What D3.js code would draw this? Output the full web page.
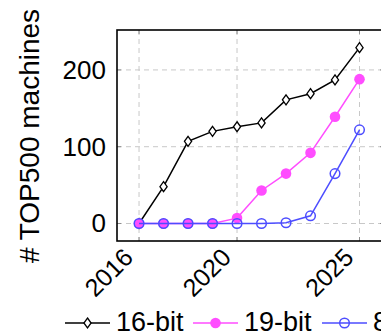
<!DOCTYPE html>
<html>
<head>
<meta charset="utf-8">
<script src="https://cdn.jsdelivr.net/npm/d3@7"></script>
<style>
  html, body { margin: 0; padding: 0; background: #fff; overflow: hidden; }
  text { font-family: "Liberation Sans", Arial, sans-serif; fill: #000; }
</style>
</head>
<body>
<svg id="chart" width="381" height="333"></svg>
<script>
// data
const years = [2016, 2017, 2018, 2019, 2020, 2021, 2022, 2023, 2024, 2025];
const bit16 = [0, 48, 107, 120, 126, 131, 161, 169, 187, 229];
const bit19 = [0, 0, 0, 0, 7, 43, 65, 92, 139, 188];
const bit8 = [0, 0, 0, 0, 0, 0, 1, 10, 65, 122];
const xTicks = [2016, 2020, 2025];
const yTicks = [0, 100, 200];
const seriesNames = ['16-bit', '19-bit', '8-bit'];

const svg = d3.select('#chart');
const pLeft = 117, pRight = 384, pTop = 30, pBottom = 241;

const x = d3.scaleLinear().domain([2015.1, 2026]).range([pLeft, pRight]);
const y = d3.scaleLinear().domain([-22.8, 252]).range([pBottom, pTop]);

// grid
const grid = svg.append('g')
	.attr('stroke', '#c8c8c8')
	.attr('stroke-width', 1)
	.attr('stroke-dasharray', '5,4');
grid.selectAll('line.gx')
	.data(xTicks)
	.enter()
	.append('line')
	.attr('x1', d => x(d)).attr('x2', d => x(d))
	.attr('y1', pTop).attr('y2', pBottom);
grid.selectAll('line.gy')
	.data(yTicks)
	.enter()
	.append('line')
	.attr('x1', pLeft).attr('x2', pRight)
	.attr('y1', d => y(d)).attr('y2', d => y(d));

// inner ticks on all four sides
const ticks = svg.append('g').attr('stroke', '#8c8c8c').attr('stroke-width', 1);
xTicks.forEach(function(t) {
	ticks.append('line').attr('x1', x(t)).attr('x2', x(t)).attr('y1', pBottom).attr('y2', pBottom - 4);
	ticks.append('line').attr('x1', x(t)).attr('x2', x(t)).attr('y1', pTop).attr('y2', pTop + 4);
});
yTicks.forEach(function(t) {
	ticks.append('line').attr('x1', pLeft).attr('x2', pLeft + 4).attr('y1', y(t)).attr('y2', y(t));
	ticks.append('line').attr('x1', pRight - 4).attr('x2', pRight).attr('y1', y(t)).attr('y2', y(t));
});

// tick labels
svg.selectAll('text.ylab')
	.data(yTicks)
	.enter()
	.append('text')
	.attr('x', pLeft - 11)
	.attr('y', d => y(d) + 9)
	.attr('text-anchor', 'end')
	.attr('font-size', 26)
	.text(d => d);

svg.selectAll('text.xlab')
	.data(xTicks)
	.enter()
	.append('text')
	.attr('transform', d => `translate(${x(d) - 4.5},259) rotate(-45)`)
	.attr('text-anchor', 'end')
	.attr('font-size', 25)
	.text(d => d);

// y axis title
svg.append('text')
	.attr('transform', 'translate(39,136) rotate(-90)')
	.attr('text-anchor', 'middle')
	.attr('font-size', 28)
	.text('# TOP500 machines');

const line = d3.line()
	.x((d, i) => x(years[i]))
	.y(d => y(d));

const diamond = 'M0,-5L3.6,0L0,5L-3.6,0Z';

// 16-bit
svg.append('path')
	.datum(bit16)
	.attr('d', line)
	.attr('fill', 'none')
	.attr('stroke', '#000')
	.attr('stroke-width', 1.5);
svg.selectAll('path.m16')
	.data(bit16)
	.enter()
	.append('path')
	.attr('d', diamond)
	.attr('transform', (d, i) => `translate(${x(years[i])},${y(d)})`)
	.attr('fill', '#fff')
	.attr('stroke', '#000')
	.attr('stroke-width', 1.3);

// 19-bit
svg.append('path')
	.datum(bit19)
	.attr('d', line)
	.attr('fill', 'none')
	.attr('stroke', '#ff4dff')
	.attr('stroke-width', 1.5);
svg.selectAll('circle.m19')
	.data(bit19)
	.enter()
	.append('circle')
	.attr('cx', (d, i) => x(years[i]))
	.attr('cy', d => y(d))
	.attr('r', 5.3)
	.attr('fill', '#ff4dff');

// 8-bit
svg.append('path')
	.datum(bit8)
	.attr('d', line)
	.attr('fill', 'none')
	.attr('stroke', '#4d4dff')
	.attr('stroke-width', 1.5);
svg.selectAll('circle.m8')
	.data(bit8)
	.enter()
	.append('circle')
	.attr('cx', (d, i) => x(years[i]))
	.attr('cy', d => y(d))
	.attr('r', 4.8)
	.attr('fill', 'none')
	.attr('stroke', '#4d4dff')
	.attr('stroke-width', 1.5);

// frame
svg.append('rect')
	.attr('x', pLeft).attr('y', pTop)
	.attr('width', pRight - pLeft).attr('height', pBottom - pTop)
	.attr('fill', 'none')
	.attr('stroke', '#000')
	.attr('stroke-width', 1.6);

// legend
const legY = 323;
const leg = [
	{ x0: 65, name: seriesNames[0], color: '#000' },
	{ x0: 193, name: seriesNames[1], color: '#ff4dff' },
	{ x0: 322, name: seriesNames[2], color: '#4d4dff' }
];
leg.forEach(function(l, k) {
	const g = svg.append('g');
	g.append('line')
		.attr('x1', l.x0).attr('x2', l.x0 + 45)
		.attr('y1', legY).attr('y2', legY)
		.attr('stroke', l.color).attr('stroke-width', 1.5);
	const cx = l.x0 + 22.5;
	if (k === 0) {
		g.append('path').attr('d', diamond)
			.attr('transform', `translate(${cx},${legY})`)
			.attr('fill', '#fff').attr('stroke', '#000').attr('stroke-width', 1.3);
	} else if (k === 1) {
		g.append('circle').attr('cx', cx).attr('cy', legY).attr('r', 5.3).attr('fill', l.color);
	} else {
		g.append('circle').attr('cx', cx).attr('cy', legY).attr('r', 4.8)
			.attr('fill', 'none').attr('stroke', l.color).attr('stroke-width', 1.5);
	}
	g.append('text')
		.attr('x', l.x0 + 51)
		.attr('y', 331)
		.attr('font-size', 27)
		.text(l.name);
});
</script>
</body>
</html>
